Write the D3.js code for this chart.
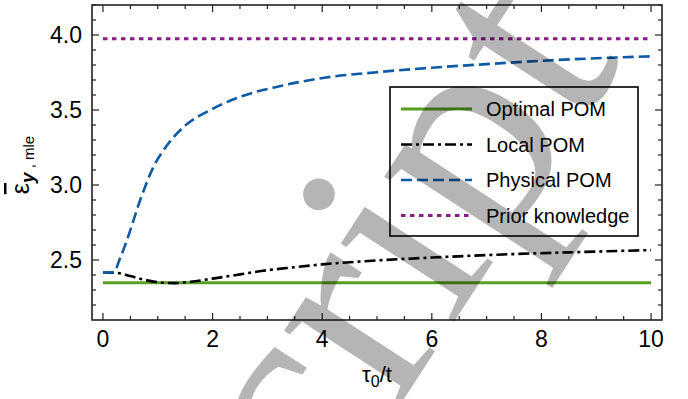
<!DOCTYPE html>
<html>
<head>
<meta charset="utf-8">
<script src="https://cdn.jsdelivr.net/npm/d3@7"></script>
<style>
  body { margin: 0; background: #fff; }
  text { font-family: "Liberation Sans", Arial, sans-serif; }
</style>
</head>
<body>
<svg id="chart" width="688" height="399"></svg>
<script>
// values
var optimalX = [0, 10];
var optimalY = [2.348, 2.348];

var localX = [0, 0.25, 0.5, 0.76, 1.0, 1.3, 1.6, 2.0, 2.5, 2.92, 3.5, 4.0, 5.0, 6.1, 7.3, 8.5, 10];
var localY = [2.416, 2.414, 2.393, 2.368, 2.352, 2.346, 2.355, 2.376, 2.404, 2.428, 2.452, 2.471, 2.497, 2.518, 2.537, 2.551, 2.566];

var physicalX = [0, 0.2, 0.3, 0.44, 0.68, 0.92, 1.16, 1.48, 1.96, 2.52, 3.24, 4.04, 5.0, 6.0, 7.0, 8.0, 9.0, 10];
var physicalY = [2.416, 2.418, 2.5, 2.635, 2.9, 3.12, 3.26, 3.39, 3.5, 3.59, 3.66, 3.715, 3.752, 3.782, 3.806, 3.828, 3.845, 3.858];

var priorX = [0, 10];
var priorY = [3.975, 3.975];

var seriesNames = ["Optimal POM", "Local POM", "Physical POM", "Prior knowledge"];
var xTicks = [0, 2, 4, 6, 8, 10];
var yTicks = [2.5, 3.0, 3.5, 4.0];

var svg = d3.select('#chart');

var pLeft = 92, pRight = 662, pTop = 5, pBottom = 320;

var x = d3.scaleLinear().domain([-0.2, 10.2]).range([pLeft, pRight]);
var y = d3.scaleLinear().domain([2.1, 4.2]).range([pBottom, pTop]);

// frame ticks, inward, all four sides
var xMinor = d3.range(0, 10.01, 0.5);
var yMinor = d3.range(2.2, 4.201, 0.1);

function isMajor(v, list){
	return list.some(function(t){ return Math.abs(t - v) < 1e-6 })
}

var ticksG = svg.append('g').style('stroke', '#222').style('stroke-width', 1.2);

ticksG.selectAll('.xtb')
  .data(xMinor)
  .enter()
  .append('line')
  .attr('x1', function(d){ return x(d) })
  .attr('x2', function(d){ return x(d) })
  .attr('y1', pBottom)
  .attr('y2', function(d){ return pBottom - (isMajor(d, xTicks) ? 7 : 4) })

ticksG.selectAll('.xtt')
  .data(xMinor)
  .enter()
  .append('line')
  .attr('x1', function(d){ return x(d) })
  .attr('x2', function(d){ return x(d) })
  .attr('y1', pTop)
  .attr('y2', function(d){ return pTop + (isMajor(d, xTicks) ? 7 : 4) })

ticksG.selectAll('.ytl')
  .data(yMinor)
  .enter()
  .append('line')
  .attr('y1', function(d){ return y(d) })
  .attr('y2', function(d){ return y(d) })
  .attr('x1', pLeft)
  .attr('x2', function(d){ return pLeft + (isMajor(d, yTicks) ? 7 : 4) })

ticksG.selectAll('.ytr')
  .data(yMinor)
  .enter()
  .append('line')
  .attr('y1', function(d){ return y(d) })
  .attr('y2', function(d){ return y(d) })
  .attr('x1', pRight)
  .attr('x2', function(d){ return pRight - (isMajor(d, yTicks) ? 7 : 4) })

// tick labels
svg.selectAll('.xlab')
  .data(xTicks)
  .enter()
  .append('text')
  .attr('x', function(d){ return x(d) })
  .attr('y', 347)
  .attr('text-anchor', 'middle')
  .style('font-size', '23px')
  .text(function(d){ return d })

svg.selectAll('.ylab')
  .data(yTicks)
  .enter()
  .append('text')
  .attr('x', 82)
  .attr('y', function(d){ return y(d) + 8 })
  .attr('text-anchor', 'end')
  .style('font-size', '23px')
  .text(function(d){ return d3.format('.1f')(d) })

// axis titles
var xt = svg.append('text')
  .attr('x', 377)
  .attr('y', 382)
  .attr('text-anchor', 'middle')
  .style('font-size', '22px')
xt.append('tspan').text('τ')
xt.append('tspan').attr('dy', 5).style('font-size', '16px').text('0')
xt.append('tspan').attr('dy', -5).text('/t')

var yt = svg.append('text')
  .attr('transform', 'translate(29,165) rotate(-90)')
  .attr('text-anchor', 'middle')
  .style('font-size', '25px')
yt.append('tspan').style('text-decoration', 'overline').text('ε')
yt.append('tspan').attr('dy', 5).style('font-size', '19px').style('font-weight', 'bold').style('font-style', 'italic').text('y')
yt.append('tspan').style('font-size', '15px').text(' , mle')

// curves
var line = d3.line()
  .x(function(d){ return x(d[0]) })
  .y(function(d){ return y(d[1]) })
  .curve(d3.curveMonotoneX)

function pairs(xs, ys){
	return xs.map(function(v, i){ return [v, ys[i]] })
}

var styles = [
	{ color: '#55a01e', dash: null, width: 3 },
	{ color: '#000000', dash: '11 4 3 4', width: 2.6 },
	{ color: '#0e5aa7', dash: '11 5', width: 2.6 },
	{ color: '#8b1a8b', dash: '4.5 4.5', width: 3 }
];

var series = [
	pairs(optimalX, optimalY),
	pairs(localX, localY),
	pairs(physicalX, physicalY),
	pairs(priorX, priorY)
];

svg.selectAll('.curve')
  .data(series)
  .enter()
  .append('path')
  .attr('class', 'curve')
  .attr('d', function(d){ return line(d) })
  .style('fill', 'none')
  .style('stroke', function(d, i){ return styles[i].color })
  .style('stroke-width', function(d, i){ return styles[i].width })
  .style('stroke-dasharray', function(d, i){ return styles[i].dash })

// frame
svg.append('rect')
  .attr('x', pLeft)
  .attr('y', pTop)
  .attr('width', pRight - pLeft)
  .attr('height', pBottom - pTop)
  .style('fill', 'none')
  .style('stroke', '#222')
  .style('stroke-width', 1.6)

// legend
var lg = svg.append('g')
lg.append('rect')
  .attr('x', 390)
  .attr('y', 87)
  .attr('width', 248)
  .attr('height', 149)
  .style('fill', 'white')
  .style('stroke', 'black')
  .style('stroke-width', 1.6)

var rows = lg.selectAll('.row')
  .data(seriesNames)
  .enter()
  .append('g')
  .attr('transform', function(d, i){ return 'translate(0,' + (109 + i * 35.5) + ')' })

rows.append('line')
  .attr('x1', 401)
  .attr('x2', 472)
  .style('stroke', function(d, i){ return styles[i].color })
  .style('stroke-width', function(d, i){ return styles[i].width })
  .style('stroke-dasharray', function(d, i){ return styles[i].dash })

rows.append('text')
  .attr('x', 486)
  .attr('y', 7)
  .style('font-size', '20px')
  .text(function(d){ return d })

// watermark
svg.append('text')
  .attr('transform', 'translate(428,362) rotate(-57)')
  .attr('text-anchor', 'middle')
  .style('font-family', '"Liberation Serif", serif')
  .style('font-size', '300px')
  .style('fill', 'rgba(0,0,0,0.29)')
  .text('Script')
</script>
</body>
</html>
